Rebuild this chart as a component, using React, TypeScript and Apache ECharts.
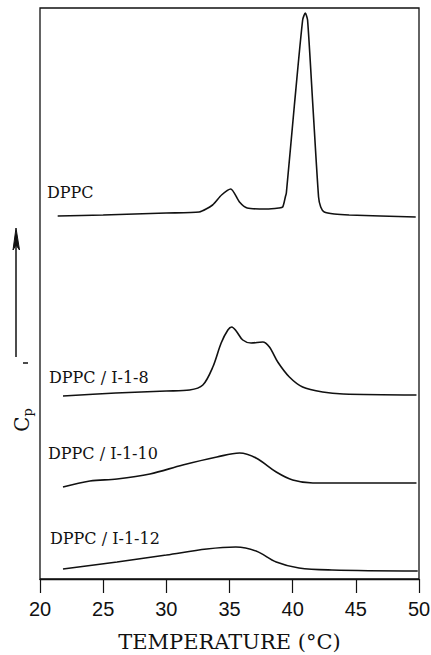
import React, { useEffect, useRef } from "react";
import * as echarts from "echarts";

// Temperature (°C) and relative Cp (arbitrary, stacked) readings
const dppcT = [21.4, 25, 30, 32.6, 33.66, 34.37, 35.1, 35.79, 36.4, 37.9, 38.9, 39.21, 39.42, 39.5, 40.13, 40.79, 41.0, 41.18, 41.61, 42.05, 42.22, 42.5, 43.29, 44.47, 49.74];
const dppcCp = [363, 364, 366, 367, 374, 384, 390, 377, 371, 370, 371, 372, 382, 386, 473, 559, 566, 559, 471, 382, 372, 367, 365, 364, 362];

const i18T = [21.82, 26, 30, 31.84, 32.89, 33.68, 34.34, 34.87, 35.18, 35.53, 36.05, 36.71, 37.63, 38.16, 38.82, 39.74, 40.79, 42.37, 44, 49.8];
const i18Cp = [183, 186, 188, 189, 194, 212, 236, 249, 252, 248, 239, 236, 237, 232, 217, 202, 192, 187, 185, 184];

const i110T = [21.82, 23.95, 26.1, 28.7, 31.3, 34.0, 35.8, 37.1, 38.7, 40.0, 41.6, 49.8];
const i110Cp = [92, 98, 100, 105, 114, 122, 126, 121, 107, 99, 96, 96];

const i112T = [21.82, 26.1, 30, 33.2, 35.5, 37.1, 38.7, 40.5, 43.1, 49.9];
const i112Cp = [10, 17, 24, 30, 32, 28, 17, 11, 9, 8];

const seriesNames = ["DPPC", "DPPC / I-1-8", "DPPC / I-1-10", "DPPC / I-1-12"];
const xTicks = [20, 25, 30, 35, 40, 45, 50];

const zip = (xs: number[], ys: number[]) => xs.map((x, i) => [x, ys[i]]);

export default function App() {
  const ref = useRef<HTMLDivElement>(null);
  useEffect(() => {
    if (!ref.current) return;
    const chart = echarts.init(ref.current, undefined, { renderer: "svg" });
    const lineStyle = { color: "#111", width: 1.6 };
    const mk = (name: string, data: number[][], smooth: number) => ({
      name,
      type: "line",
      data,
      smooth,
      showSymbol: false,
      symbol: "none",
      lineStyle,
      silent: true,
    });
    const labelFont = "DejaVu Serif";
    const lbl = (text: string, x: number, y: number) => ({
      type: "text",
      x,
      y,
      style: {
        text,
        fill: "#111",
        font: `16px "${labelFont}"`,
        textVerticalAlign: "middle",
      },
    });
    chart.setOption({
      animation: false,
      backgroundColor: "#fff",
      grid: {
        left: 40,
        right: 12,
        top: 8,
        bottom: 76,
        show: true,
        borderColor: "#111",
        borderWidth: 1.3,
        outerBoundsMode: "none",
        containLabel: false,
      },
      xAxis: {
        type: "value",
        min: xTicks[0],
        max: xTicks[xTicks.length - 1],
        interval: 5,
        axisLine: { show: true, onZero: false, lineStyle: { color: "#111", width: 1.3 } },
        axisTick: { show: true, inside: false, length: 14, lineStyle: { color: "#111", width: 1.2 } },
        axisLabel: {
          color: "#111",
          fontSize: 20,
          fontFamily: "Liberation Sans",
          margin: 20,
        },
        splitLine: { show: false },
        name: "TEMPERATURE (°C)",
        nameLocation: "middle",
        nameGap: 52,
        nameTextStyle: { color: "#111", fontSize: 21, fontFamily: labelFont, lineHeight: 22 },
      },
      yAxis: {
        type: "value",
        min: 0,
        max: 571,
        show: false,
        splitLine: { show: false },
      },
      series: [
        mk(seriesNames[0], zip(dppcT, dppcCp), 0.22),
        mk(seriesNames[1], zip(i18T, i18Cp), 0.3),
        mk(seriesNames[2], zip(i110T, i110Cp), 0.35),
        mk(seriesNames[3], zip(i112T, i112Cp), 0.35),
      ],
      graphic: [
        lbl(seriesNames[0], 47, 192),
        lbl(seriesNames[1], 49, 377),
        lbl(seriesNames[2], 48, 453),
        lbl(seriesNames[3], 50, 538),
        {
          type: "line",
          shape: { x1: 16, y1: 357, x2: 16, y2: 240 },
          style: { stroke: "#111", lineWidth: 1.5 },
        },
        {
          type: "polygon",
          shape: { points: [[13, 250], [16, 228], [19.5, 250], [16, 245]] },
          style: { fill: "#111", stroke: "#111", lineWidth: 1 },
        },
        {
          type: "line",
          shape: { x1: 23, y1: 363, x2: 28, y2: 363 },
          style: { stroke: "#111", lineWidth: 1.5 },
        },
        {
          type: "text",
          x: 22,
          y: 420,
          rotation: Math.PI / 2,
          style: {
            text: "{c|C}{p|p}",
            textAlign: "center",
            textVerticalAlign: "middle",
            rich: {
              c: { fontSize: 20, fontFamily: labelFont, fill: "#111" },
              p: { fontSize: 13, fontFamily: labelFont, fill: "#111", padding: [10, 0, 0, 0] },
            },
          },
        },
      ],
    });
    return () => chart.dispose();
  }, []);
  return <div ref={ref} style={{ width: 431, height: 655, position: "absolute", left: 0, top: 0 }} />;
}
